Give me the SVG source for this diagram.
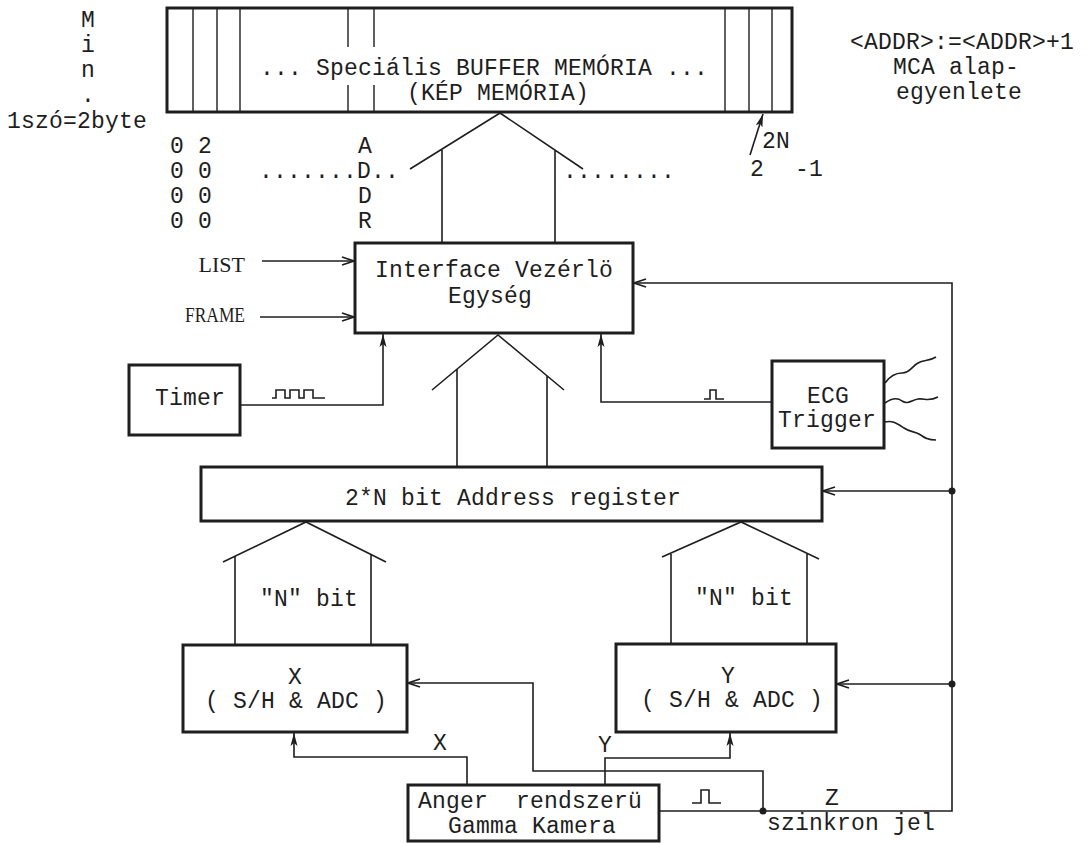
<svg xmlns="http://www.w3.org/2000/svg" width="1087" height="843" viewBox="0 0 1087 843">
<style>
.t{font-family:"Liberation Mono","Courier New",monospace;font-size:23px;letter-spacing:0.2px;fill:#1e1e1e;white-space:pre}
.s{font-family:"Liberation Serif","Times New Roman",serif;font-size:22px;fill:#1e1e1e}
.box{fill:none;stroke:#1e1e1e;stroke-width:3}
.ln{fill:none;stroke:#1e1e1e;stroke-width:1.6}
.thin{fill:none;stroke:#1e1e1e;stroke-width:1.4}
.arr{marker-end:url(#open)}
.arf{marker-end:url(#fill)}
.dot{fill:#1e1e1e}
</style>
<defs>
<marker id="open" markerUnits="userSpaceOnUse" markerWidth="16" markerHeight="12" viewBox="0 0 16 12" refX="14" refY="6" orient="auto">
<path d="M2,2 L14,6 L2,10" fill="none" stroke="#1e1e1e" stroke-width="1.6"/>
</marker>
<marker id="fill" markerUnits="userSpaceOnUse" markerWidth="14" markerHeight="10" viewBox="0 0 14 10" refX="13" refY="5" orient="auto">
<path d="M0,1.5 L13,5 L0,8.5 L3,5 z" fill="#1e1e1e"/>
</marker>
</defs>
<rect width="1087" height="843" fill="#ffffff"/>

<g id="side-notes">
<text class="t" x="88" y="27" text-anchor="middle">M</text>
<text class="t" x="88" y="52" text-anchor="middle">i</text>
<text class="t" x="88" y="77" text-anchor="middle">n</text>
<text class="t" x="88" y="102" text-anchor="middle">.</text>
<text class="t" x="7" y="128">1szó=2byte</text>
<text class="t" x="850" y="49">&lt;ADDR&gt;:=&lt;ADDR&gt;+1</text>
<text class="t" x="893" y="74">MCA alap-</text>
<text class="t" x="896" y="99">egyenlete</text>
</g>

<g id="memory">
<rect class="box" x="167" y="8" width="625" height="104"/>
<path class="thin" d="M193,8V112M217,8V112M240,8V112M348,8V47M348,85V112M374,8V47M374,85V112M725,8V112M749,8V112M772,8V112"/>
<text class="t" x="260" y="75">... Speciális BUFFER MEMÓRIA ...</text>
<text class="t" x="407" y="100">(KÉP MEMÓRIA)</text>
</g>

<g id="address-labels">
<text class="t" x="170" y="153">0 2</text>
<text class="t" x="170" y="178">0 0</text>
<text class="t" x="170" y="203">0 0</text>
<text class="t" x="170" y="228">0 0</text>
<text class="t" x="358" y="153">A</text>
<text class="t" x="259" y="178">.......D..</text>
<text class="t" x="358" y="203">D</text>
<text class="t" x="358" y="228">R</text>
<text class="t" x="563" y="178">........</text>
<text class="t" x="762" y="148">2N</text>
<text class="t" x="750" y="176">2</text>
<text class="t" x="795" y="176">-1</text>
</g>

<g id="interface">
<rect class="box" x="355" y="243" width="278" height="90"/>
<text class="t" x="375" y="277">Interface Vezérlö</text>
<text class="t" x="448" y="303">Egység</text>
</g>

<g id="timer">
<rect class="box" x="129" y="365" width="111" height="70"/>
<text class="t" x="155" y="405">Timer</text>
</g>

<g id="ecg">
<rect class="box" x="772" y="361" width="112" height="87"/>
<text class="t" x="807" y="403">ECG</text>
<text class="t" x="778" y="427">Trigger</text>
<path class="ln" d="M885,383 C890,376 895,373 902,373 C910,373 912,366 918,363 C924,359 928,362 936,357"/>
<path class="ln" d="M885,403 C892,398 897,397 902,401 C908,405 912,400 918,399 C925,398 928,402 938,397"/>
<path class="ln" d="M885,422 C893,420 898,424 904,428 C910,432 913,431 919,434 C925,438 928,440 936,440"/>
</g>

<g id="address-register">
<rect class="box" x="201" y="467" width="621" height="54"/>
<text class="t" x="345" y="505">2*N bit Address register</text>
</g>

<g id="x-adc">
<rect class="box" x="183" y="645" width="224" height="87"/>
<text class="t" x="295" y="684" text-anchor="middle">X</text>
<text class="t" x="205" y="708">( S/H &amp; ADC )</text>
</g>

<g id="y-adc">
<rect class="box" x="616" y="644" width="220" height="88"/>
<text class="t" x="728" y="683" text-anchor="middle">Y</text>
<text class="t" x="641" y="707">( S/H &amp; ADC )</text>
</g>

<g id="anger">
<rect class="box" x="408" y="785" width="251" height="56"/>
<text class="t" x="418" y="808" xml:space="preserve">Anger  rendszerü</text>
<text class="t" x="448" y="833">Gamma Kamera</text>
</g>

<g id="connectors">
<path class="ln" d="M410,169 L500,113 L583,169 M442,150 V243 M555,150 V243"/>
<path class="ln" d="M432,390 L498,335 L564,390 M457,369 V467 M547,376 V467"/>
<path class="ln" d="M223,562 L306,522 L386,562 M235,556 V645 M371,555 V645"/>
<path class="ln" d="M662,557 L741,522 L819,559 M671,554 V644 M807,553 V644"/>
<text class="t" x="260" y="606">"N" bit</text>
<text class="t" x="695" y="605">"N" bit</text>
<path class="ln arf" d="M750,155 L763,114"/>
<text class="s" x="245" y="272" text-anchor="end">LIST</text>
<text class="s" x="185" y="322" textLength="60" lengthAdjust="spacingAndGlyphs">FRAME</text>
<path class="ln arr" d="M262,261 H354"/>
<path class="ln arr" d="M260,317 H354"/>
<path class="ln arf" d="M240,405 H383 V334"/>
<path class="ln" d="M272,398 h4 v-8 h9 v8 h5 v-8 h9 v8 h5 v-8 h9 v8 h12"/>
<path class="ln arf" d="M772,402 H601 V334"/>
<path class="ln" d="M704,399 h6 v-9 h6 v9 h8"/>
<path class="ln arr" d="M659,811 H952 V283 H634"/>
<path class="ln arr" d="M952,491 H823"/>
<path class="ln arr" d="M952,684 H837"/>
<circle class="dot" cx="952" cy="491" r="3.5"/>
<circle class="dot" cx="952" cy="684" r="3.5"/>
<path class="ln arr" d="M763,811 V771 H533 V683 H408"/>
<circle class="dot" cx="763" cy="811" r="3.5"/>
<path class="ln" d="M692,803 h9 v-13 h8 v13 h12"/>
<text class="t" x="825" y="805">Z</text>
<text class="t" x="767" y="830">szinkron jel</text>
<path class="ln arf" d="M467,785 V757 H294 V733"/>
<path class="ln arf" d="M605,785 V758 H730 V733"/>
<text class="t" x="433" y="750">X</text>
<text class="t" x="598" y="752">Y</text>
</g>
</svg>
